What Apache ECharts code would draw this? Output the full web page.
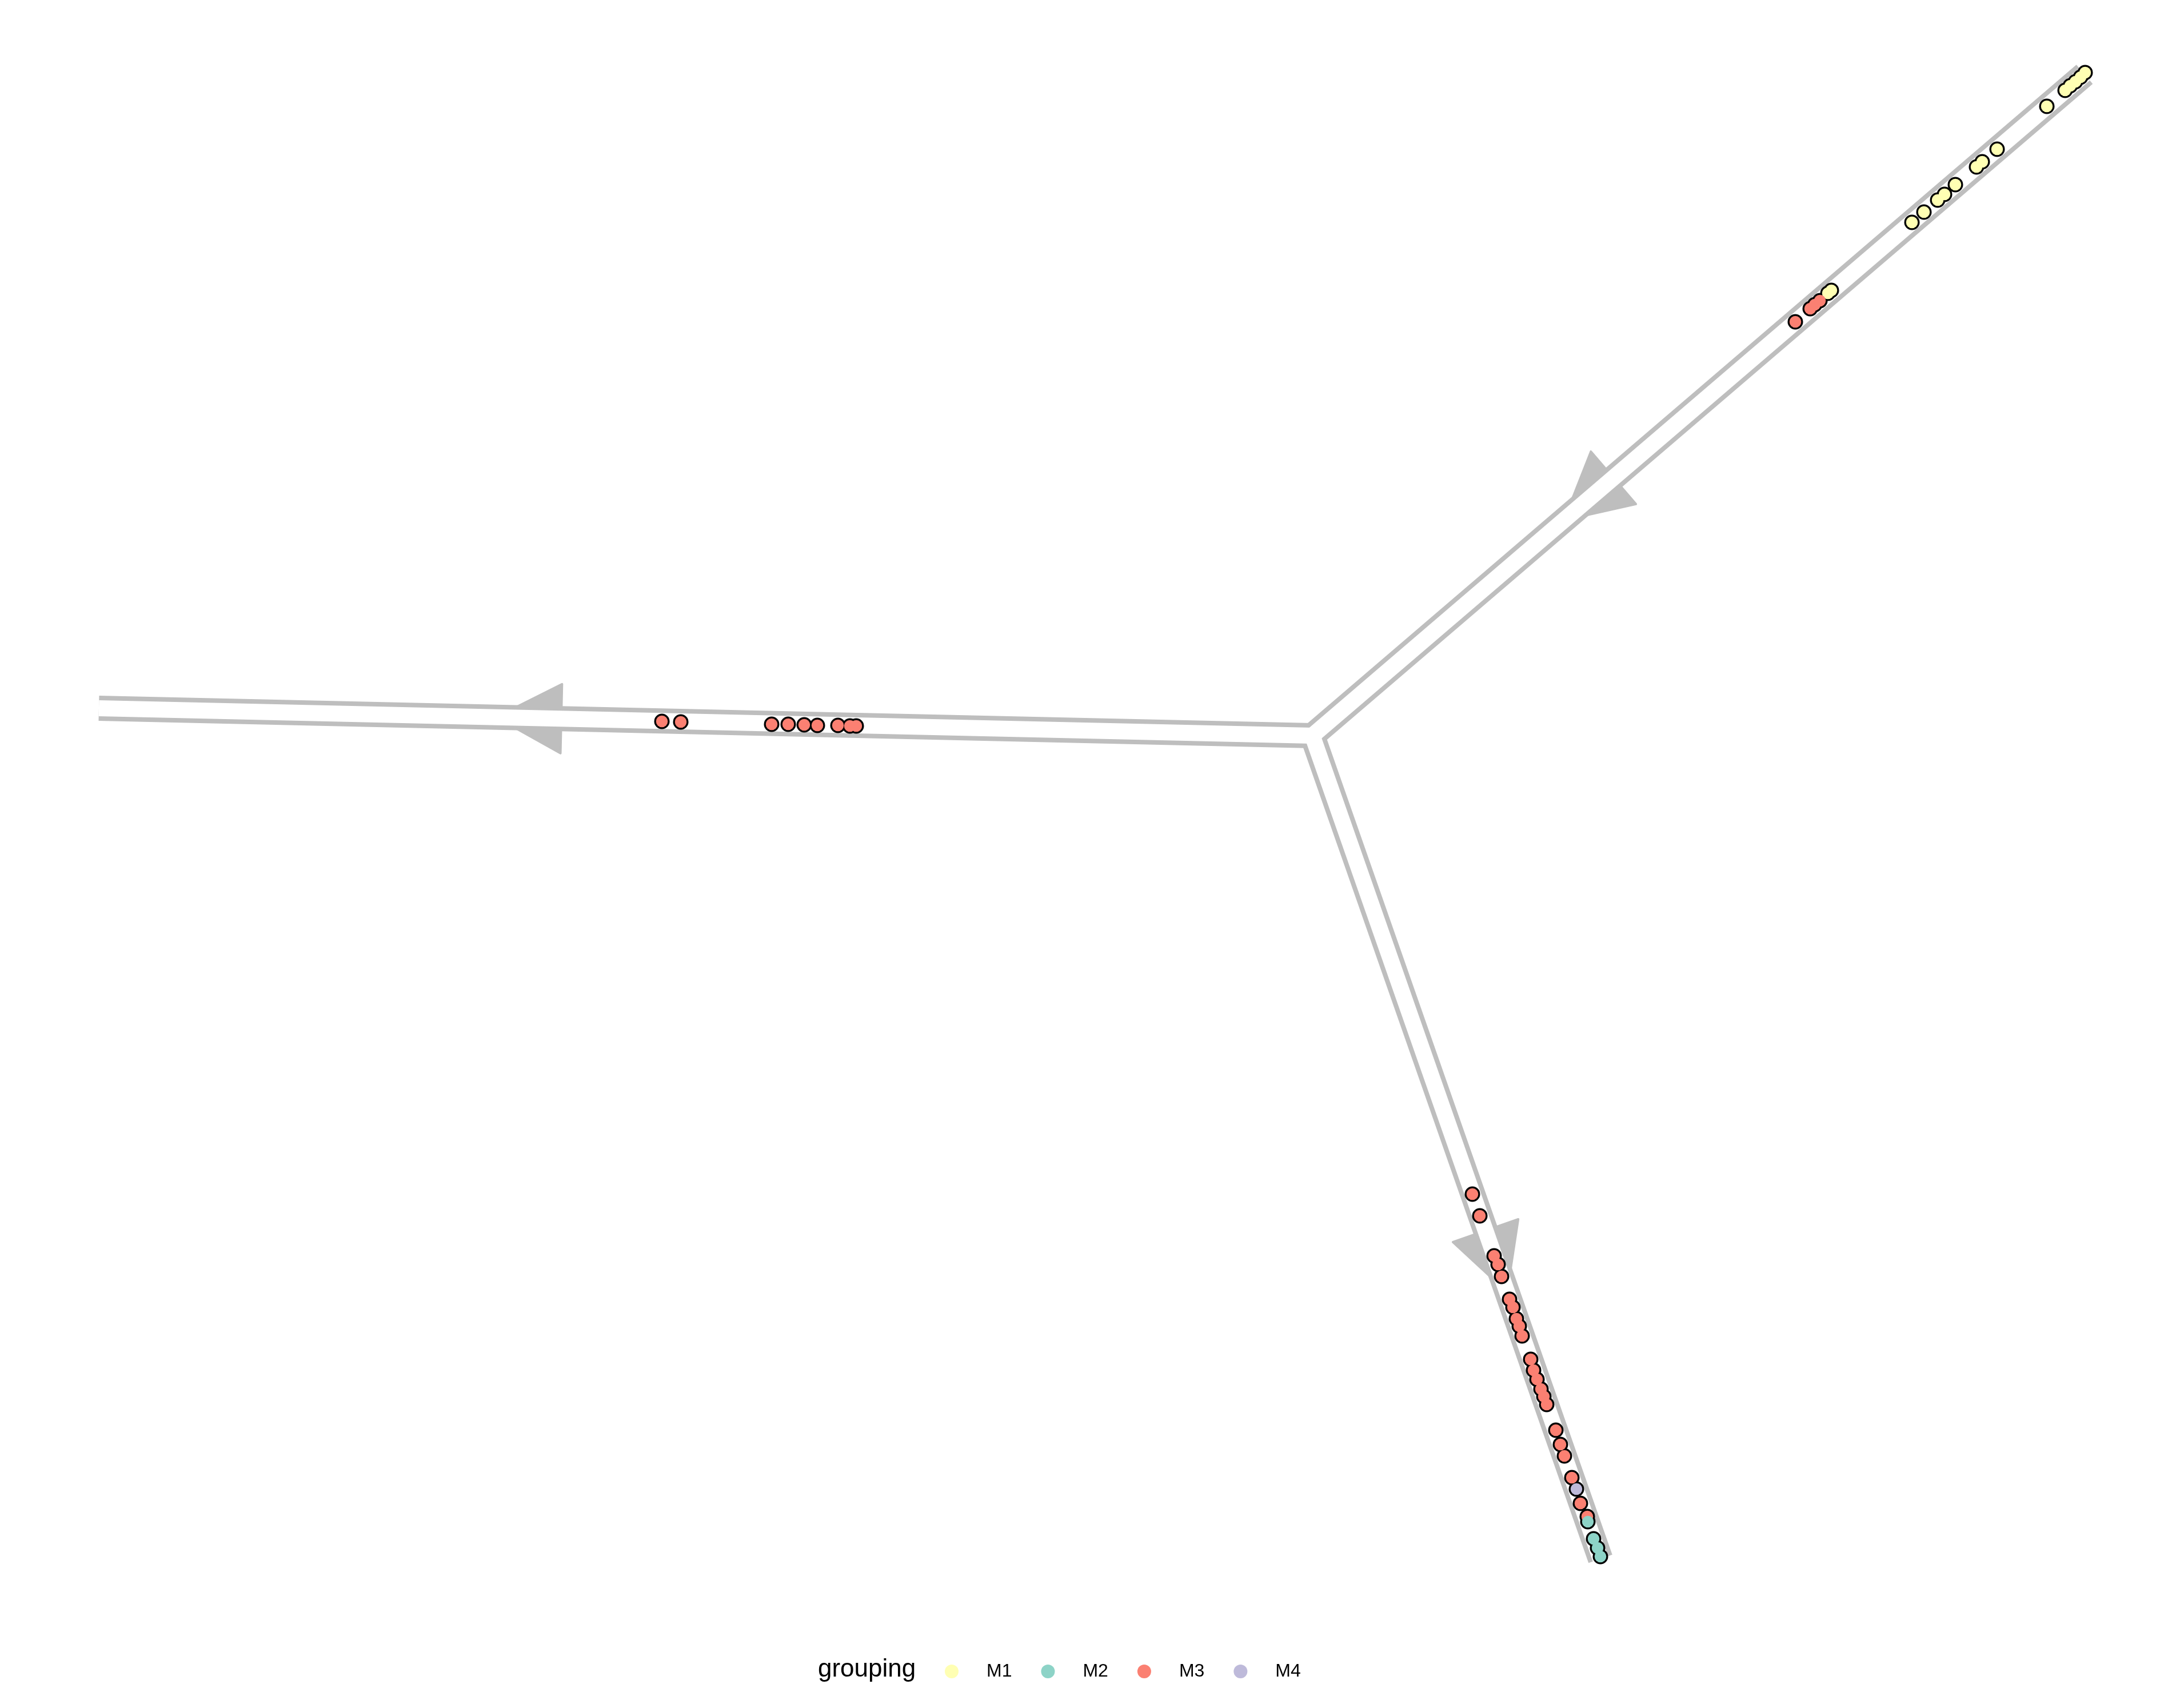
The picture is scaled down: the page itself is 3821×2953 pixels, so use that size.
<!DOCTYPE html>
<html>
<head>
<meta charset="utf-8">
<script src="https://cdn.jsdelivr.net/npm/echarts@6/dist/echarts.min.js"></script>
<style>
html,body{margin:0;padding:0;background:#fff;}
#chart{width:3821px;height:2953px;}
</style>
</head>
<body>
<div id="chart"></div>
<script>
// ---- trajectory tree (component space, y grows downward) ----
const junction = [2296, 1287];
const branchFrom = [[3647, 130], [2296, 1287], [2296, 1287]];
const branchTo   = [[2296, 1287], [173, 1239], [2800, 2727]];
const arrowAt    = [0.609, 0.618, 0.600];   // fraction along each branch where the arrow starts

// ---- cells by group ----
const groupNames = ['M1', 'M2', 'M3', 'M4'];
const m1Cells = [[3345,389],[3366,371],[3390,350],[3402,340],[3421,323],[3458,292],[3468,283],[3494,261],
  [3581,186],[3613,158],[3622,150],[3631,143],[3640,135],[3648,127],[3198,513],[3204,508]];
const m2Cells = [[2778,2662],[2788,2692],[2795,2708],[2800,2723]];
const m3Cells = [[3141,563],[3167,540],[3175,533],[3184,526],
  [1158,1262],[1191,1263],[1350,1267],[1379,1267],[1407,1268],[1430,1269],[1466,1269],[1487,1270],[1498,1270],
  [2576,2089],[2589,2127],[2614,2197],[2621,2212],[2627,2233],[2641,2273],[2647,2287],[2653,2307],[2658,2320],
  [2663,2337],[2678,2378],[2683,2397],[2689,2413],[2696,2430],[2701,2443],[2706,2457],[2722,2502],[2730,2527],
  [2737,2547],[2750,2585],[2765,2630],[2777,2653]];
const m4Cells = [[2758,2605]];

const colors = {M1:'#FFFFB3', M2:'#8DD3C7', M3:'#FB8072', M4:'#BEBADA'};
const pathGrey = '#BEBEBE';
const ARROW_W = 125, ARROW_H = 118;

const series = [];
// grey outer path
branchFrom.forEach((f, i) => {
  series.push({type:'line', data:[f, branchTo[i]], symbol:'none', silent:true, z:1,
    lineStyle:{color:pathGrey, width:44, cap:'butt', opacity:1}});
});
// arrows
const arrowData = branchFrom.map((f, i) => {
  const t = branchTo[i];
  const dx = t[0]-f[0], dy = t[1]-f[1];
  const len = Math.hypot(dx, dy);
  const ux = dx/len, uy = dy/len;
  const bx = f[0] + arrowAt[i]*dx, by = f[1] + arrowAt[i]*dy;
  const cx = bx + ux*ARROW_H/2, cy = by + uy*ARROW_H/2;
  const rot = Math.atan2(-ux, -uy) * 180 / Math.PI;
  return {value:[cx, cy], symbolRotate: rot};
});
series.push({type:'scatter', data:arrowData, symbol:'triangle', symbolSize:[ARROW_W-4, ARROW_H-4], silent:true, z:2,
  itemStyle:{color:pathGrey, borderColor:pathGrey, borderWidth:4, borderJoin:'round', opacity:1}});
// white inner path
branchFrom.forEach((f, i) => {
  series.push({type:'line', data:[f, branchTo[i]], symbol:'none', silent:true, z:3,
    lineStyle:{color:'#FFFFFF', width:28, cap:'butt', opacity:1}});
});
series.push({type:'scatter', data:[junction], symbol:'circle', symbolSize:28, silent:true, z:3,
  itemStyle:{color:'#FFFFFF', opacity:1}});
// black outlines of all cells
const allCells = [].concat(m1Cells, m4Cells, m3Cells, m2Cells);
series.push({type:'scatter', data:allCells, symbol:'circle', symbolSize:27, silent:true, z:4,
  itemStyle:{color:'#000000', opacity:1}});
// coloured cells
const cellSets = {M1:m1Cells, M2:m2Cells, M3:m3Cells, M4:m4Cells};
['M1','M4','M3','M2'].forEach(g => {
  series.push({type:'scatter', name:g, data:cellSets[g], symbol:'circle', symbolSize:20.5, z:5,
    itemStyle:{color:colors[g], opacity:1}});
});

const chart = echarts.init(document.getElementById('chart'), null, {renderer:'canvas'});
chart.setOption({
  animation:false,
  backgroundColor:'#ffffff',
  grid:{left:0, right:0, top:0, bottom:0, containLabel:false},
  xAxis:{type:'value', min:0, max:3821, show:false},
  yAxis:{type:'value', min:0, max:2953, inverse:true, show:false},
  title:{text:'grouping', left:1426, top:2894,
    textStyle:{fontFamily:'Liberation Sans, Arial, sans-serif', fontSize:44, fontWeight:'normal', color:'#000', lineHeight:44}},
  legend:{data:groupNames, left:1648, top:2903, orient:'horizontal', icon:'circle',
    itemWidth:24, itemHeight:24, itemGap:51,
    textStyle:{fontFamily:'Liberation Sans, Arial, sans-serif', fontSize:32, color:'#000', padding:[0,0,0,44], lineHeight:32}},
  series:series
});
</script>
</body>
</html>
